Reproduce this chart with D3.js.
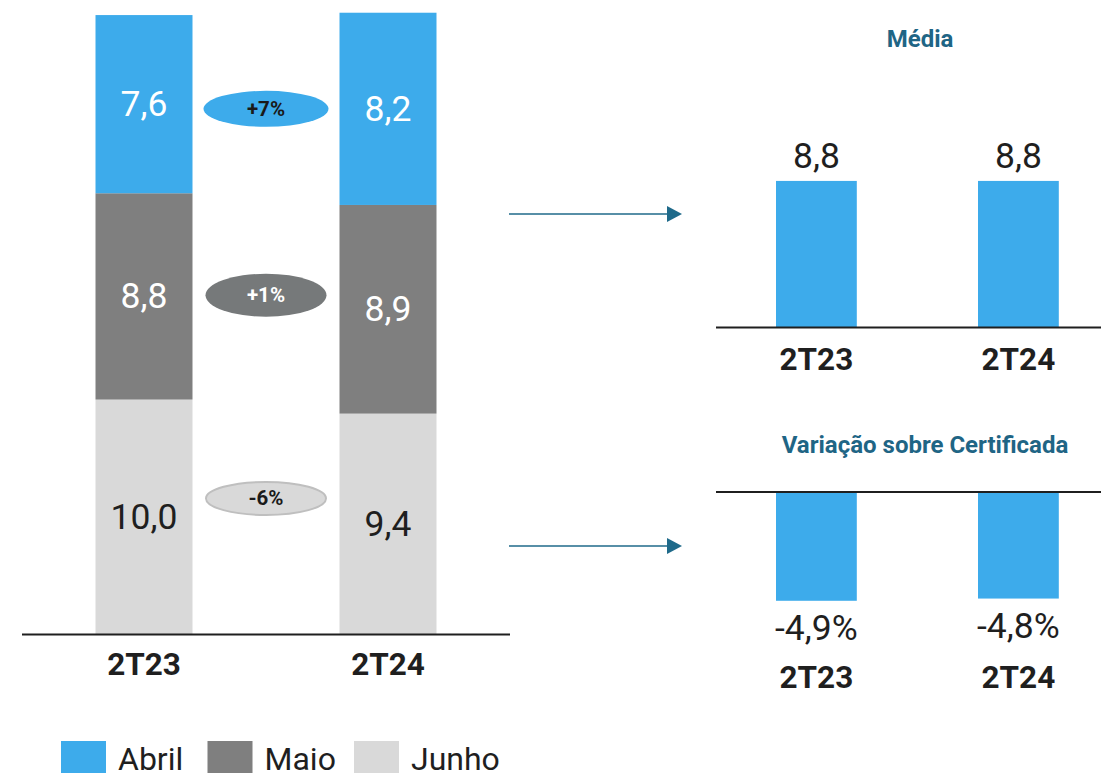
<!DOCTYPE html>
<html>
<head>
<meta charset="utf-8">
<script src="https://cdn.jsdelivr.net/npm/d3@7"></script>
<style>
  html, body { margin: 0; padding: 0; background: #fff; }
  svg { display: block; font-family: Roboto, "Noto Sans", Arial, sans-serif; }
</style>
</head>
<body>
<svg id="chart" width="1101" height="773"></svg>
<script>
// Quarters and monthly series (stacked, bottom to top: Junho, Maio, Abril)
const quarters = ["2T23", "2T24"];
const months = ["Junho", "Maio", "Abril"];
const junho = [10.0, 9.4];
const maio = [8.8, 8.9];
const abril = [7.6, 8.2];

// Change between quarters, per month (top to bottom)
const changeLabels = ["+7%", "+1%", "-6%"];
const changeMonths = ["Abril", "Maio", "Junho"];

// Average and variation over certified value
const media = [8.8, 8.8];
const variacao = [-4.9, -4.8];

// Legend order
const legendMonths = ["Abril", "Maio", "Junho"];

const colors = { Abril: "#3dabeb", Maio: "#7f7f7f", Junho: "#d9d9d9" };
const labelColors = { Abril: "#ffffff", Maio: "#ffffff", Junho: "#1f1f1f" };
// Brazilian number style: decimal comma, plain hyphen for negatives
const fmt = v => d3.format(".1f")(v).replace(".", ",").replace("\u2212", "-");
const fmtPct = v => fmt(v) + "%";

const svg = d3.select("#chart");
const ink = "#1f1f1f";
const titleBlue = "#1f6585";

// ---------- Left: stacked bars ----------
const rows = quarters.map((q, i) => ({ q, Junho: junho[i], Maio: maio[i], Abril: abril[i] }));
const stack = d3.stack().keys(months)(rows);

const xL = d3.scaleBand().domain(quarters).range([22, 510]).paddingInner(0.6025).paddingOuter(0.30125);
const yL = d3.scaleLinear().domain([0, 27]).range([634, 1]);

const left = svg.append("g");
stack.forEach(layer => {
  const key = layer.key;
  const g = left.append("g");
  g.selectAll("rect").data(layer).join("rect")
    .attr("x", d => xL(d.data.q))
    .attr("width", xL.bandwidth())
    .attr("y", d => yL(d[1]))
    .attr("height", d => yL(d[0]) - yL(d[1]))
    .attr("fill", colors[key]);
  g.selectAll("text").data(layer).join("text")
    .attr("x", d => xL(d.data.q) + xL.bandwidth() / 2)
    .attr("y", d => (yL(d[0]) + yL(d[1])) / 2 + 12)
    .attr("text-anchor", "middle")
    .attr("font-size", 35.5)
    .attr("fill", labelColors[key])
    .text(d => fmt(d.data[key]));
});

left.append("line").attr("x1", 22).attr("x2", 510).attr("y1", 634.5).attr("y2", 634.5)
  .attr("stroke", ink).attr("stroke-width", 2);

left.selectAll("text.cat").data(quarters).join("text").attr("class", "cat")
  .attr("x", d => xL(d) + xL.bandwidth() / 2)
  .attr("y", 675)
  .attr("text-anchor", "middle")
  .attr("font-size", 31.5).attr("font-weight", "bold").attr("fill", ink)
  .text(d => d);

// Change badges between the two bars
const badgeLevel = { Abril: 22.4, Maio: 14.45, Junho: 5.78 };
const badgeStyle = {
  Abril: { fill: "#3dabeb", stroke: "none", text: "#1a1a1a", rx: 62.5, ry: 18 },
  Maio:  { fill: "#76797a", stroke: "none", text: "#ffffff", rx: 60.5, ry: 21.5 },
  Junho: { fill: "#d9d9d9", stroke: "#bfbfbf", text: "#1a1a1a", rx: 60, ry: 16.5 }
};
const badgeX = (xL(quarters[0]) + xL.bandwidth() + xL(quarters[1])) / 2;
const badges = left.selectAll("g.badge").data(changeLabels.map((t, i) => ({ t, m: changeMonths[i] })))
  .join("g").attr("class", "badge")
  .attr("transform", d => `translate(${badgeX},${yL(badgeLevel[d.m])})`);
badges.append("ellipse")
  .attr("rx", d => badgeStyle[d.m].rx).attr("ry", d => badgeStyle[d.m].ry)
  .attr("fill", d => badgeStyle[d.m].fill)
  .attr("stroke", d => badgeStyle[d.m].stroke).attr("stroke-width", 2);
badges.append("text")
  .attr("text-anchor", "middle").attr("y", 7)
  .attr("font-size", 20.5).attr("font-weight", "bold")
  .attr("fill", d => badgeStyle[d.m].text)
  .text(d => d.t);

// ---------- Arrows ----------
const arrowColor = "#1f6a8a";
[214, 546].forEach(y => {
  svg.append("line").attr("x1", 509).attr("x2", 668).attr("y1", y).attr("y2", y)
    .attr("stroke", arrowColor).attr("stroke-width", 1.6);
  svg.append("path").attr("d", `M667,${y - 8}L682,${y}L667,${y + 8}Z`).attr("fill", arrowColor);
});

// ---------- Right top: Média ----------
const xR = d3.scaleBand().domain(quarters).range([715.4, 1119.4]).paddingInner(0.6).paddingOuter(0.3);
const yM = d3.scaleLinear().domain([0, 10]).range([327, 161]);

svg.append("text").attr("x", 920).attr("y", 47).attr("text-anchor", "middle")
  .attr("font-size", 24).attr("font-weight", "bold").attr("fill", titleBlue).text("Média");

const gM = svg.append("g");
gM.selectAll("rect").data(media).join("rect")
  .attr("x", (d, i) => xR(quarters[i])).attr("width", xR.bandwidth())
  .attr("y", d => yM(d)).attr("height", d => yM(0) - yM(d))
  .attr("fill", colors.Abril);
gM.selectAll("text.val").data(media).join("text").attr("class", "val")
  .attr("x", (d, i) => xR(quarters[i]) + xR.bandwidth() / 2)
  .attr("y", d => yM(d) - 13)
  .attr("text-anchor", "middle").attr("font-size", 35.5).attr("fill", ink)
  .text(d => fmt(d));
gM.append("line").attr("x1", 716).attr("x2", 1101).attr("y1", 327.5).attr("y2", 327.5)
  .attr("stroke", ink).attr("stroke-width", 2);
gM.selectAll("text.cat").data(quarters).join("text").attr("class", "cat")
  .attr("x", d => xR(d) + xR.bandwidth() / 2).attr("y", 370)
  .attr("text-anchor", "middle").attr("font-size", 31.5).attr("font-weight", "bold").attr("fill", ink)
  .text(d => d);

// ---------- Right bottom: Variação sobre Certificada ----------
const yV = d3.scaleLinear().domain([-5, 0]).range([603, 492]);

svg.append("text").attr("x", 925).attr("y", 453).attr("text-anchor", "middle")
  .attr("font-size", 24).attr("font-weight", "bold").attr("fill", titleBlue)
  .text("Variação sobre Certificada");

const gV = svg.append("g");
gV.selectAll("rect").data(variacao).join("rect")
  .attr("x", (d, i) => xR(quarters[i])).attr("width", xR.bandwidth())
  .attr("y", yV(0)).attr("height", d => yV(d) - yV(0))
  .attr("fill", colors.Abril);
gV.append("line").attr("x1", 716).attr("x2", 1101).attr("y1", 492).attr("y2", 492)
  .attr("stroke", ink).attr("stroke-width", 2);
gV.selectAll("text.val").data(variacao).join("text").attr("class", "val")
  .attr("x", (d, i) => xR(quarters[i]) + xR.bandwidth() / 2)
  .attr("y", d => yV(d) + 39)
  .attr("text-anchor", "middle").attr("font-size", 35.5).attr("fill", ink)
  .text(d => fmtPct(d));
gV.selectAll("text.cat").data(quarters).join("text").attr("class", "cat")
  .attr("x", d => xR(d) + xR.bandwidth() / 2).attr("y", 688)
  .attr("text-anchor", "middle").attr("font-size", 31.5).attr("font-weight", "bold").attr("fill", ink)
  .text(d => d);

// ---------- Legend ----------
const legendX = d3.scalePoint().domain(legendMonths).range([61, 354]);
const lg = svg.append("g").selectAll("g").data(legendMonths).join("g")
  .attr("transform", d => `translate(${legendX(d)},741)`);
lg.append("rect").attr("width", 45).attr("height", 33).attr("fill", d => colors[d]);
lg.append("text").attr("x", 57).attr("y", 29).attr("font-size", 32).attr("fill", ink).text(d => d);
</script>
</body>
</html>
